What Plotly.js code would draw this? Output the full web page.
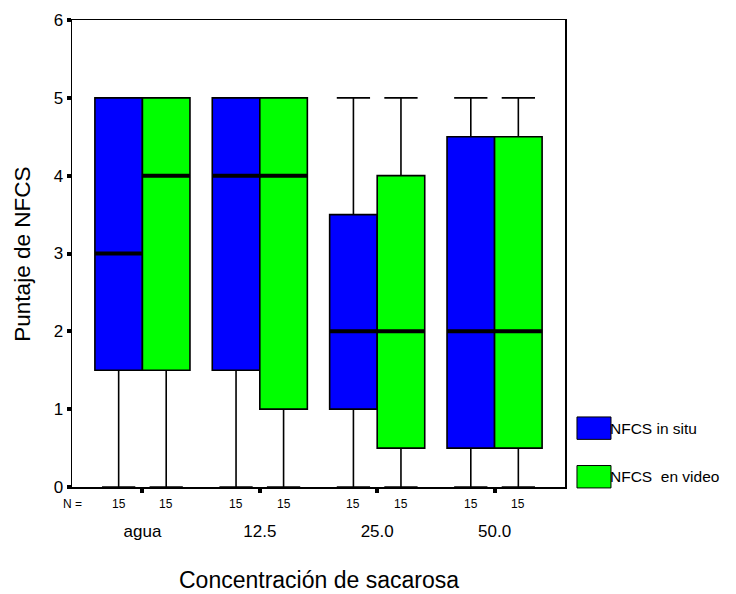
<!DOCTYPE html>
<html>
<head>
<meta charset="utf-8">
<script src="https://cdn.plot.ly/plotly-3.0.1.min.js"></script>
<style>html,body{margin:0;padding:0;background:#fff;}#chart{width:736px;height:594px;}</style>
</head>
<body>
<div id="chart"></div>
<script>
// ---- data ----
var categories = ['agua', '12.5', '25.0', '50.0'];
var seriesNames = ['NFCS in situ', 'NFCS  en video'];
var seriesColors = ['#0000ff', '#00ff00'];
// in situ
var situLower  = [0, 0, 0, 0];
var situQ1     = [1.5, 1.5, 1, 0.5];
var situMedian = [3, 4, 2, 2];
var situQ3     = [5, 5, 3.5, 4.5];
var situUpper  = [5, 5, 5, 5];
// en video
var videoLower  = [0, 0, 0, 0];
var videoQ1     = [1.5, 1, 0.5, 0.5];
var videoMedian = [4, 4, 2, 2];
var videoQ3     = [5, 5, 4, 4.5];
var videoUpper  = [5, 5, 5, 5];
var nSitu  = [15, 15, 15, 15];
var nVideo = [15, 15, 15, 15];
var yTicks = [0, 1, 2, 3, 4, 5, 6];
var xTitle = 'Concentración de sacarosa';
var yTitle = 'Puntaje de NFCS';

var FONT = 'Liberation Sans, Arial, sans-serif';
var BOXGAP = 0.19;
var half = (1 - BOXGAP) / 4;

function boxTrace(name, color, lo, q1, med, q3, up, group) {
  return {
    type: 'box', name: name, x: categories,
    lowerfence: lo, q1: q1, median: med, q3: q3, upperfence: up,
    fillcolor: color, line: {color: '#000', width: 1.6},
    whiskerwidth: 0.7, boxpoints: false, offsetgroup: group,
    showlegend: false, hoverinfo: 'skip'
  };
}
function medTrace(med, group) {
  return {
    type: 'box', x: categories,
    lowerfence: med, q1: med, median: med, q3: med, upperfence: med,
    fillcolor: 'rgba(0,0,0,0)', line: {color: '#000', width: 4},
    whiskerwidth: 0, boxpoints: false, offsetgroup: group,
    showlegend: false, hoverinfo: 'skip'
  };
}

var data = [
  boxTrace(seriesNames[0], seriesColors[0], situLower, situQ1, situMedian, situQ3, situUpper, 'a'),
  boxTrace(seriesNames[1], seriesColors[1], videoLower, videoQ1, videoMedian, videoQ3, videoUpper, 'b'),
  medTrace(situMedian, 'a'),
  medTrace(videoMedian, 'b')
];

var annotations = [{
  xref: 'paper', yref: 'paper', x: 0, y: -0.036, xanchor: 'center', yanchor: 'middle',
  text: 'N =', showarrow: false, font: {family: FONT, size: 12, color: '#000'}
}, {
  xref: 'paper', yref: 'paper', x: 0.5, y: -0.199, xanchor: 'center', yanchor: 'middle',
  text: xTitle, showarrow: false, font: {family: FONT, size: 23, color: '#000'}
}, {
  xref: 'paper', yref: 'paper', x: -0.1, y: 0.499, xanchor: 'center', yanchor: 'middle',
  text: yTitle, textangle: -90, showarrow: false, font: {family: FONT, size: 22.5, color: '#000'}
}];
categories.forEach(function (c, i) {
  annotations.push({xref: 'x', yref: 'paper', x: i - half, y: -0.036, xanchor: 'center', yanchor: 'middle',
    text: String(nSitu[i]), showarrow: false, font: {family: FONT, size: 12, color: '#000'}});
  annotations.push({xref: 'x', yref: 'paper', x: i + half, y: -0.036, xanchor: 'center', yanchor: 'middle',
    text: String(nVideo[i]), showarrow: false, font: {family: FONT, size: 12, color: '#000'}});
});
// custom legend
var legY = [0.126, 0.022];
var shapes = [];
seriesNames.forEach(function (n, i) {
  shapes.push({type: 'rect', xref: 'paper', yref: 'paper', x0: 1.0243, x1: 1.0933,
    y0: legY[i] - 0.024, y1: legY[i] + 0.024, fillcolor: seriesColors[i], line: {color: '#000', width: 1}});
  annotations.push({xref: 'paper', yref: 'paper', x: 1.088, y: legY[i], xanchor: 'left', yanchor: 'middle',
    text: n, showarrow: false, font: {family: FONT, size: 15.5, color: '#000'}});
});

var layout = {
  width: 736, height: 594,
  margin: {l: 72, r: 171, t: 20, b: 107},
  paper_bgcolor: '#fff', plot_bgcolor: '#fff',
  font: {family: FONT, color: '#000'},
  boxmode: 'group', boxgap: BOXGAP, boxgroupgap: 0,
  showlegend: false,
  xaxis: {
    type: 'category', range: [-0.6, 3.6],
    showline: true, mirror: true, linecolor: '#000', linewidth: 1.5,
    ticks: 'outside', ticklen: 4, tickwidth: 4, tickcolor: '#000',
    showgrid: false, zeroline: false,
    tickfont: {family: FONT, size: 17}, ticklabelstandoff: 24
  },
  yaxis: {
    range: [0, 6], tickvals: yTicks,
    showline: true, mirror: true, linecolor: '#000', linewidth: 1.5,
    ticks: 'outside', ticklen: 4, tickwidth: 4, tickcolor: '#000',
    showgrid: false, zeroline: false,
    tickfont: {family: FONT, size: 17}
  },
  annotations: annotations, shapes: shapes
};

Plotly.newPlot('chart', data, layout, {displayModeBar: false, staticPlot: true});
</script>
</body>
</html>
